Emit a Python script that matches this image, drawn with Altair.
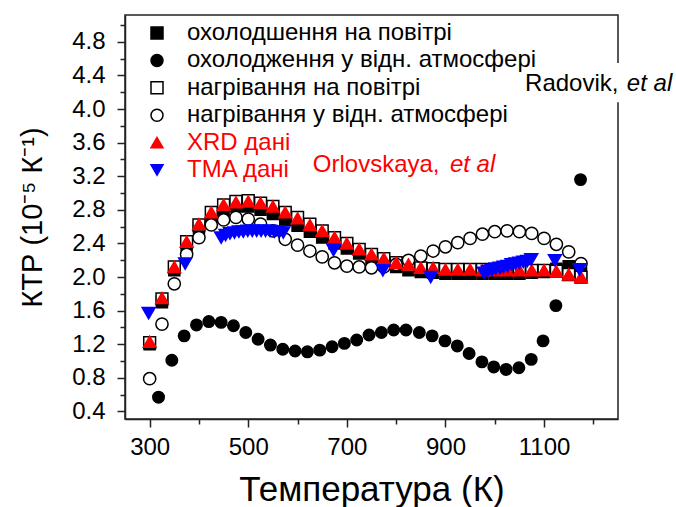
import altair as alt
import pandas as pd

FONT = "Liberation Sans"

# Series names, in legend order
SERIES = [
    "охолодшення на повітрі",
    "охолодження у відн. атмосфері",
    "нагрівання на повітрі",
    "нагрівання у відн. атмосфері",
    "XRD дані",
    "TMA дані",
]
SHAPES = ["square", "circle", "square", "circle", "triangle-up", "triangle-down"]
FILLS = ["#000000", "#000000", "#ffffff", "#ffffff", "#ff0000", "#0000ff"]
STROKES = ["#000000", "#000000", "#000000", "#000000", "#ff0000", "#0000ff"]
SIZES = [121, 169, 121, 130, 170, 190]
LABEL_COLORS = ["#000000", "#000000", "#000000", "#000000", "#ff0000", "#ff0000"]

# Temperature grid of the air / heating runs (K)
t_grid = [300, 325, 350, 375, 400, 425, 450, 475, 500, 525, 550, 575,
          600, 625, 650, 675, 700, 725, 750, 775, 800, 825, 850, 875,
          900, 925, 950, 975, 1000, 1025, 1050, 1075, 1100, 1125, 1150, 1175]

# CTE, 10^-5 K^-1
cool_air = [1.20, 1.70, 2.08, 2.38, 2.58, 2.72, 2.80, 2.84, 2.84, 2.80, 2.75, 2.68,
            2.61, 2.54, 2.47, 2.40, 2.34, 2.28, 2.22, 2.17, 2.12, 2.08, 2.06, 2.05,
            2.04, 2.04, 2.04, 2.04, 2.04, 2.04, 2.04, 2.05, 2.06, 2.10, 2.13, 2.05]

heat_air = [1.22, 1.74, 2.12, 2.42, 2.62, 2.77, 2.86, 2.90, 2.91, 2.88, 2.84, 2.77,
            2.71, 2.63, 2.55, 2.47, 2.40, 2.33, 2.27, 2.22, 2.17, 2.14, 2.11, 2.10,
            2.09, 2.09, 2.09, 2.09, 2.08, 2.08, 2.08, 2.08, 2.08, 2.07, 2.03, 2.00]

heat_inert = [0.79, 1.44, 1.92, 2.27, 2.47, 2.62, 2.68, 2.71, 2.69, 2.63, 2.55, 2.45,
              2.38, 2.31, 2.24, 2.17, 2.13, 2.12, 2.11, 2.12, 2.15, 2.20, 2.25, 2.31,
              2.36, 2.41, 2.46, 2.51, 2.54, 2.55, 2.54, 2.52, 2.46, 2.39, 2.30, 2.16]

xrd = [1.23, 1.75, 2.12, 2.42, 2.63, 2.77, 2.86, 2.89, 2.90, 2.88, 2.84, 2.77,
       2.70, 2.62, 2.55, 2.47, 2.40, 2.33, 2.27, 2.22, 2.17, 2.15, 2.11, 2.11,
       2.09, 2.09, 2.09, 2.08, 2.08, 2.08, 2.08, 2.08, 2.08, 2.07, 2.03, 2.00]

t_cool_inert = [318, 345, 370, 395, 420, 445, 470, 495, 520, 545, 570, 595,
                620, 645, 670, 695, 720, 745, 770, 795, 820, 847, 873, 899,
                924, 948, 974, 998, 1023, 1049, 1074, 1098, 1124, 1174]
cool_inert = [0.57, 1.01, 1.30, 1.43, 1.47, 1.46, 1.42, 1.34, 1.26, 1.19, 1.14, 1.12,
              1.11, 1.13, 1.17, 1.21, 1.25, 1.31, 1.34, 1.37, 1.37, 1.34, 1.30, 1.24,
              1.18, 1.09, 0.99, 0.93, 0.90, 0.92, 1.02, 1.24, 1.66, 3.16]

t_tma = [298, 372, 445, 454, 463, 472, 481, 490, 499, 508, 517, 526, 535, 544,
         553, 562, 571, 673, 773, 870, 978, 986, 994, 1002, 1010, 1018, 1026,
         1034, 1042, 1050, 1058, 1066, 1074, 1122, 1172]
tma = [1.57, 2.16, 2.47, 2.50, 2.52, 2.53, 2.54, 2.54, 2.55, 2.55, 2.55, 2.55, 2.55, 2.55,
       2.54, 2.54, 2.53, 2.32, 2.08, 2.00, 2.05, 2.07, 2.08, 2.10, 2.11, 2.12, 2.13,
       2.15, 2.16, 2.17, 2.18, 2.19, 2.21, 2.20, 2.09]

# Long table in drawing order (later rows are drawn on top)
parts = [
    (SERIES[0], t_grid, cool_air),
    (SERIES[1], t_cool_inert, cool_inert),
    (SERIES[2], t_grid, heat_air),
    (SERIES[3], t_grid, heat_inert),
    (SERIES[4], t_grid, xrd),
    (SERIES[5], t_tma, tma),
]
df = pd.concat(
    [pd.DataFrame({"T": t, "v": v, "series": name}) for name, t, v in parts],
    ignore_index=True,
)

x_ticks = list(range(300, 1201, 100))
y_ticks = [round(0.4 + 0.2 * i, 1) for i in range(24)]

x_major = "datum.value % 200 == 100"
y_major = "round(datum.value * 10) % 4 == 0"

x_enc = alt.X(
    "T:Q",
    scale=alt.Scale(domain=[250, 1250], nice=False, zero=False),
    axis=alt.Axis(
        values=x_ticks,
        labelExpr=f"{x_major} ? datum.label : ''",
        labelOverlap=False,
        format="d",
        tickSize={"condition": {"test": x_major, "value": 8}, "value": 5},
        title="Температура (К)",
        titleY=81,
        titleBaseline="alphabetic",
    ),
)
y_enc = alt.Y(
    "v:Q",
    scale=alt.Scale(domain=[0.31, 5.12], nice=False, zero=False),
    axis=alt.Axis(
        values=y_ticks,
        labelExpr=f"{y_major} ? format(datum.value, '.1f') : ''",
        labelOverlap=False,
        labelPadding=12,
        tickSize={"condition": {"test": y_major, "value": 8}, "value": 5},
        title="КТР (10⁻⁵ К⁻¹)\u2002\u2002",
        titleX=-84,
        titleBaseline="alphabetic",
        titleAngle=270,
    ),
)

# Shared marker scales (series -> symbol, fill, outline, area)
shape_enc = alt.Shape("series:N", scale=alt.Scale(domain=SERIES, range=SHAPES), legend=None)
fill_enc = alt.Fill("series:N", scale=alt.Scale(domain=SERIES, range=FILLS), legend=None)
stroke_enc = alt.Stroke("series:N", scale=alt.Scale(domain=SERIES, range=STROKES), legend=None)

points = alt.Chart(df).mark_point(opacity=1, strokeWidth=1.5).encode(
    x=x_enc,
    y=y_enc,
    shape=shape_enc,
    fill=fill_enc,
    stroke=stroke_enc,
    size=alt.Size("series:N", scale=alt.Scale(domain=SERIES, range=SIZES), legend=None),
)

# Source labels
notes = pd.DataFrame({
    "T": [631.0, 909.0, 1061.5, 1268.0],
    "v": [3.254, 3.254, 4.217, 4.217],
    "text": ["Orlovskaya,", "et al", "Radovik,", "et al"],
    "color": ["#ff0000", "#ff0000", "#000000", "#000000"],
    "italic": [False, True, False, True],
})
gap = pd.DataFrame({"T": [1215], "T2": [1285], "v": [4.08], "v2": [4.55]})

gap_rect = alt.Chart(gap).mark_rect(fill="white").encode(
    x=x_enc, x2="T2:Q", y=y_enc, y2="v2:Q"
)
note_plain = alt.Chart(notes).transform_filter("!datum.italic").mark_text(
    align="left", baseline="alphabetic", font=FONT, fontSize=24
).encode(x=x_enc, y=y_enc, text="text:N", color=alt.Color("color:N", scale=None))
note_italic = alt.Chart(notes).transform_filter("datum.italic").mark_text(
    align="left", baseline="alphabetic", font=FONT, fontSize=24, fontStyle="italic"
).encode(x=x_enc, y=y_enc, text="text:N", color=alt.Color("color:N", scale=None))

data_layer = alt.layer(points, gap_rect, note_plain, note_italic)

# Key in the upper-left corner: one row per series on its own point scale
key_df = pd.DataFrame({"series": SERIES, "label_color": LABEL_COLORS})
key_y = alt.Y(
    "series:N",
    scale=alt.Scale(type="point", domain=SERIES, range=[18, 155], padding=0),
    axis=None,
)
key_symbols = alt.Chart(key_df).mark_point(opacity=1, strokeWidth=1.5).encode(
    x=alt.value(32),
    y=key_y,
    shape=shape_enc,
    fill=fill_enc,
    stroke=stroke_enc,
    size=alt.value(144),
)
key_labels = alt.Chart(key_df).mark_text(
    align="left", baseline="middle", font=FONT, fontSize=24
).encode(
    x=alt.value(62),
    y=key_y,
    text="series:N",
    color=alt.Color("label_color:N", scale=None),
)
key_layer = alt.layer(key_symbols, key_labels)

chart = alt.layer(data_layer, key_layer).resolve_scale(
    y="independent"
).properties(
    width=493,
    height=404,
    padding={"left": 125, "top": 15, "right": 58, "bottom": 88},
    autosize=alt.AutoSizeParams(type="none"),
).configure_view(
    stroke="#222222", strokeWidth=1.5
).configure_axis(
    domainColor="#222222",
    domainWidth=1.5,
    tickColor="#222222",
    tickWidth=1.5,
    labelFont=FONT,
    labelFontSize=24,
    labelColor="#000000",
    labelPadding=8,
    titleFont=FONT,
    titleFontWeight="normal",
    titleColor="#000000",
    grid=False,
).configure_axisX(
    titleFontSize=35,
).configure_axisY(
    titleFontSize=29,
)

chart.save("out.html", embed_options={"renderer": "svg", "actions": False})
